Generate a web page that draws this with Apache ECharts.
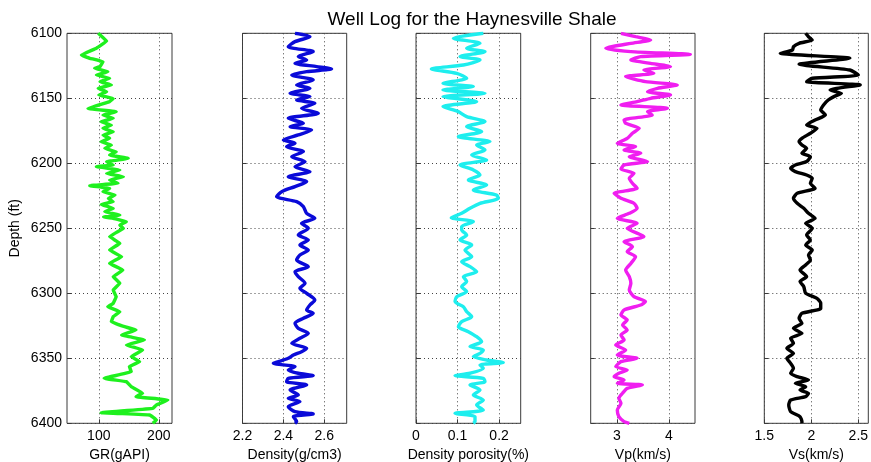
<!DOCTYPE html>
<html>
<head>
<meta charset="utf-8">
<script src="https://cdn.jsdelivr.net/npm/echarts@6/dist/echarts.min.js"></script>
<style>
html,body{margin:0;padding:0;background:#fff;}
#chart{width:871px;height:462px;}
</style>
</head>
<body>
<div id="chart"></div>
<script>
const titleText = 'Well Log for the Haynesville Shale';
const depthTicks = [6100, 6150, 6200, 6250, 6300, 6350, 6400];
const axisNames = ['GR(gAPI)', 'Density(g/cm3)', 'Density porosity(%)', 'Vp(km/s)', 'Vs(km/s)'];
const xTickValues = [[100, 200], [2.2, 2.4, 2.6], [0, 0.1, 0.2], [3, 4], [1.5, 2, 2.5]];
const xRanges = [[47, 222], [2.2, 2.71], [0, 0.252], [2.5, 4.5], [1.5, 2.606]];
const colors = ['#1ef01e', '#0a0ad8', '#1eeeee', '#f01ef0', '#000000'];

const depthGR = [6100,6106,6111.5,6116.7,6119.2,6121.8,6125.6,6126.9,6129.5,6132.1,6134.6,6137.2,6139.7,6142.3,6144.9,6147.5,6150.1,6152.6,6157.8,6160.3,6162.9,6165.4,6168,6170.6,6173.1,6175.7,6178.3,6180.8,6183.4,6186,6188.5,6191.1,6193.7,6196.2,6198.8,6201.3,6202.6,6205.2,6207.8,6210.3,6212.9,6215.4,6217.2,6219.3,6221.9,6224.4,6227,6229.6,6231.6,6234.7,6237.2,6239.8,6241.4,6242.4,6244.9,6247.5,6250.1,6253,6256.4,6261.6,6266.7,6271.8,6277,6282.1,6287.2,6292.3,6297.5,6302.6,6307.7,6310.3,6314.1,6318,6321.8,6325.7,6328.2,6332.1,6335.9,6339.8,6343.6,6348.7,6352.6,6356.4,6360.3,6365.4,6368,6371.8,6376.9,6379.5,6382.1,6385.9,6388.5,6391.8,6393.6,6397.4,6400];
const valGR = [99,113,96,71,85,107,102,93,115,96,118,102,121,99,113,100,124,118,82,129,107,124,104,121,107,124,107,118,104,121,110,129,118,149,113,124,96,135,113,141,118,132,85,118,107,127,116,124,104,124,110,135,108,124,146,135,141,130,118,135,118,138,118,140,124,135,124,129,124,115,135,124,121,143,162,138,176,146,173,154,168,151,154,109,146,154,173,162,215,196,190,104,185,196,190];

const depthRho = [6100,6102.6,6106.4,6110.3,6114.1,6117.9,6120.5,6123.1,6125.6,6127.4,6129.5,6132.1,6135.9,6139.7,6142.3,6146.2,6148.7,6151.3,6153.8,6157.7,6161.5,6165.4,6169.2,6171.8,6174.4,6178.2,6182,6184.6,6187.2,6191,6194.9,6198.7,6202.6,6206.4,6210.3,6214.1,6217.9,6221.8,6225.6,6229.5,6233.3,6238.5,6242.3,6246.2,6250,6255.1,6259,6262.8,6266.7,6270.5,6274.4,6279.5,6283.4,6287.2,6292.3,6296.2,6300,6305.1,6309,6312.8,6315.4,6319.2,6323.1,6326.9,6330.8,6334.6,6338.5,6342.3,6344.9,6347.5,6350,6352.6,6353.9,6356.4,6359,6361.5,6363.3,6365.4,6368,6370.5,6374.4,6378.2,6380.8,6383.3,6387.2,6391,6392.8,6394.9,6398.7,6400];
const valRho = [2.457,2.530,2.457,2.424,2.546,2.473,2.514,2.457,2.563,2.636,2.514,2.441,2.546,2.465,2.530,2.433,2.530,2.465,2.554,2.489,2.571,2.424,2.498,2.433,2.538,2.473,2.400,2.457,2.416,2.498,2.441,2.506,2.457,2.530,2.424,2.514,2.457,2.392,2.367,2.465,2.498,2.514,2.554,2.489,2.522,2.473,2.522,2.481,2.522,2.481,2.465,2.522,2.457,2.473,2.506,2.481,2.514,2.554,2.530,2.514,2.546,2.498,2.457,2.473,2.522,2.481,2.441,2.514,2.489,2.449,2.424,2.376,2.351,2.457,2.424,2.473,2.546,2.424,2.416,2.514,2.433,2.473,2.424,2.481,2.424,2.457,2.546,2.449,2.465,2.457];

const depthPor = [6100,6103.8,6107.7,6111.5,6114.1,6117.9,6120.5,6124.4,6127.4,6130.8,6134.6,6138.5,6141,6143.6,6146.2,6148.7,6152.6,6156.4,6160.3,6164.1,6167.9,6171.8,6175.6,6179.5,6183.3,6185.9,6189.7,6193.6,6197.4,6201.3,6205.1,6209,6212.8,6216.7,6220.5,6224.4,6226.9,6230.8,6234.6,6238.5,6241.8,6244.9,6248.7,6251.3,6255.1,6259,6262.8,6266.7,6271.8,6275.7,6279.5,6283.4,6287.2,6291,6294.9,6298.7,6302.6,6306.4,6310.3,6314.1,6318,6321.8,6325.7,6329.5,6333.4,6337.2,6341,6343.6,6346.2,6348.7,6351.3,6353.3,6355.1,6357.7,6361.5,6363.3,6365.4,6368,6370.5,6374.4,6378.2,6382.1,6385.9,6389.8,6392.3,6394.9,6398.7,6400];
const valPor = [0.162,0.090,0.154,0.122,0.166,0.106,0.154,0.114,0.037,0.098,0.122,0.065,0.138,0.065,0.166,0.065,0.146,0.065,0.102,0.122,0.166,0.122,0.158,0.102,0.178,0.146,0.166,0.134,0.170,0.106,0.138,0.154,0.126,0.170,0.138,0.194,0.198,0.154,0.130,0.110,0.085,0.138,0.110,0.110,0.122,0.106,0.134,0.118,0.134,0.110,0.130,0.146,0.114,0.122,0.110,0.122,0.098,0.094,0.114,0.122,0.134,0.110,0.102,0.126,0.146,0.158,0.130,0.162,0.154,0.138,0.170,0.210,0.154,0.162,0.130,0.094,0.162,0.166,0.130,0.154,0.138,0.162,0.146,0.162,0.094,0.142,0.142,0.138];

const depthVp = [6100,6102.6,6105.1,6107.7,6111.5,6114.1,6116.2,6117.9,6120.5,6123.1,6125.6,6128.2,6130.8,6133.3,6137.2,6139.7,6142.3,6144.9,6147.4,6150,6152.6,6155.1,6157.7,6160.3,6162.8,6166.7,6169.2,6173.1,6176.9,6180.8,6184.6,6187.2,6189.7,6192.3,6194.9,6198.7,6201.3,6204.4,6207.7,6211.5,6215.4,6219.2,6223.1,6226.9,6230.8,6234.6,6238.5,6242.3,6246.2,6250,6256.4,6260.3,6264.1,6268,6271.8,6277,6282.1,6287.2,6292.3,6297.5,6302.6,6306.4,6309,6312.8,6316.7,6320.5,6324.4,6328.2,6332.1,6335.9,6339.8,6343.6,6347.5,6350,6352.6,6356.4,6359,6361.5,6364.1,6366.7,6369.2,6370.5,6373.1,6376.9,6380.8,6384.6,6389.8,6394.9,6398.7,6400];
const valVp = [3.08,3.36,3.65,3.27,2.79,3.27,4.41,3.46,3.27,3.65,4.03,3.52,3.71,3.17,3.55,4.16,3.78,3.59,4.03,3.65,3.39,3.08,3.97,3.59,3.68,3.14,3.17,3.43,3.30,3.20,3.01,3.36,3.14,3.46,3.24,3.59,3.14,3.08,3.33,3.24,3.30,3.39,2.95,3.08,3.33,3.39,3.24,3.01,3.39,3.20,3.52,3.14,3.30,3.20,3.36,3.27,3.17,3.24,3.27,3.24,3.33,3.55,3.46,3.14,3.08,3.20,3.11,3.20,3.08,3.14,2.98,3.17,3.01,3.39,3.08,2.98,3.20,3.04,2.95,3.14,3.01,3.49,3.20,3.11,3.04,3.08,3.01,3.04,3.14,3.24];

const depthVs = [6100,6102.6,6105.1,6107.7,6110.3,6112.8,6115.4,6119.2,6123.8,6128.2,6132.1,6134.6,6137.2,6139.7,6143.6,6146.2,6148.7,6151.3,6155.1,6159,6162.8,6166.7,6170.5,6173.1,6176.9,6180.8,6183.3,6185.9,6188.5,6192.3,6194.9,6198.7,6201.3,6203.8,6206.4,6209,6211.5,6215.4,6219.2,6223.1,6226.9,6230.8,6234.6,6238.5,6242.3,6246.2,6250,6255.1,6259,6262.8,6266.7,6270.5,6274.4,6278.2,6282.1,6287.2,6291,6294.9,6300,6303.9,6307.7,6311.6,6315.4,6319.2,6323.1,6326.9,6330.8,6334.6,6338.5,6342.3,6346.2,6350,6353.9,6357.7,6361.5,6364.1,6366.7,6369.2,6371.8,6374.4,6376.9,6379.5,6382.1,6385.9,6391,6394.9,6398.7,6400];
const valVs = [1.94,1.97,2.01,1.87,1.81,1.80,1.67,2.41,1.87,2.41,2.50,2.01,1.95,2.52,2.20,2.32,2.24,2.18,2.13,2.10,2.15,2.04,1.95,2.06,1.99,1.90,1.87,1.90,1.95,1.90,1.99,1.95,1.83,1.78,1.83,1.95,2.01,1.99,2.04,1.85,1.81,1.85,1.92,1.97,2.04,1.94,2.01,1.95,1.99,1.94,2.01,1.97,1.99,1.94,1.88,1.95,1.88,1.92,1.94,2.06,2.10,2.10,1.90,1.87,1.90,1.81,1.90,1.78,1.81,1.74,1.81,1.74,1.78,1.81,1.78,1.85,1.97,1.83,1.94,1.88,1.97,1.94,1.78,1.76,1.78,1.88,1.90,1.90];

const depths = [depthGR, depthRho, depthPor, depthVp, depthVs];
const values = [valGR, valRho, valPor, valVp, valVs];
const smoothness = [0.05, 0.25, 0.25, 0.2, 0.2];

const gridLefts = [67, 242.5, 416, 590.7, 764.3];
const gridWidths = [105, 104.2, 104.7, 104.3, 104];
const FONT = 'Liberation Sans, Arial, sans-serif';

const grids = [], xAxes = [], yAxes = [], series = [];
for (let i = 0; i < 5; i++) {
  grids.push({left: gridLefts[i], top: 33.3, width: gridWidths[i], height: 390,
    containLabel: false, outerBoundsMode: 'none',
    show: true, borderColor: '#3a3a3a', borderWidth: 1, backgroundColor: '#fff'});
  xAxes.push({
    type: 'value', gridIndex: i, min: xRanges[i][0], max: xRanges[i][1],
    position: 'bottom',
    name: axisNames[i], nameLocation: 'middle', nameGap: 25,
    nameTextStyle: {fontFamily: FONT, fontSize: 14, color: '#000'},
    axisLine: {show: false},
    axisTick: {show: true, inside: true, length: 4, lineStyle: {color: '#3a3a3a'}, customValues: xTickValues[i]},
    axisLabel: {show: true, fontFamily: FONT, fontSize: 14, color: '#000', margin: 6,
      customValues: xTickValues[i], showMinLabel: true, showMaxLabel: true},
    splitLine: {show: true, lineStyle: {color: '#444', type: [1, 3], width: 1}}
  });
  yAxes.push({
    type: 'value', gridIndex: i, min: 6100, max: 6400, inverse: true,
    name: i === 0 ? 'Depth (ft)' : '', nameLocation: 'middle', nameGap: 45, nameRotate: 90,
    nameTextStyle: {fontFamily: FONT, fontSize: 14, color: '#000'},
    axisLine: {show: false},
    axisTick: {show: true, inside: true, length: 4, lineStyle: {color: '#3a3a3a'}, customValues: depthTicks},
    axisLabel: {show: i === 0, fontFamily: FONT, fontSize: 14, color: '#000', margin: 5,
      customValues: depthTicks, formatter: v => String(v)},
    splitLine: {show: true, lineStyle: {color: '#444', type: [1, 3], width: 1}}
  });
  const data = depths[i].map((d, k) => [values[i][k], d]);
  series.push({
    type: 'line', xAxisIndex: i, yAxisIndex: i, data: data,
    showSymbol: false, symbol: 'none', smooth: smoothness[i], clip: true,
    lineStyle: {color: colors[i], width: 3.4}, animation: false
  });
}

const chart = echarts.init(document.getElementById('chart'));
chart.setOption({
  animation: false,
  backgroundColor: '#fff',
  title: {text: titleText, left: 467, top: 5, textAlign: 'center',
    textStyle: {fontFamily: FONT, fontSize: 19, fontWeight: 'normal', color: '#000'}},
  grid: grids, xAxis: xAxes, yAxis: yAxes, series: series
});
</script>
</body>
</html>
